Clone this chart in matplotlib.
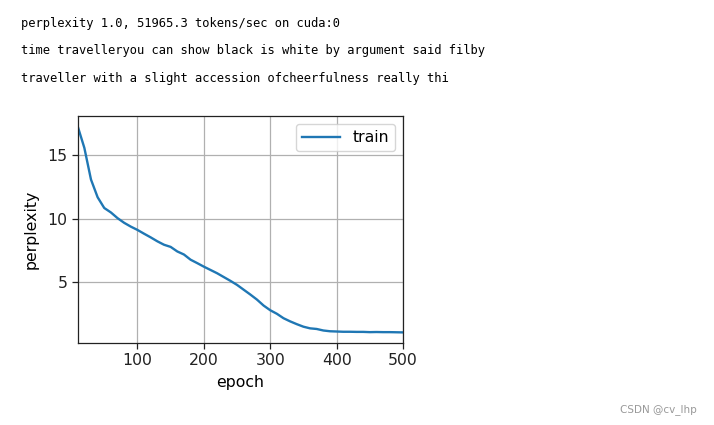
import matplotlib
matplotlib.use("Agg")
import matplotlib.pyplot as plt

header_lines = [
    "perplexity 1.0, 51965.3 tokens/sec on cuda:0",
    "time travelleryou can show black is white by argument said filby",
    "traveller with a slight accession ofcheerfulness really thi",
]

epochs = list(range(10, 501, 10))
train_ppl = [17.3, 15.6, 13.1, 11.7, 10.85, 10.5, 10.05, 9.68, 9.38, 9.12,
             8.82, 8.53, 8.22, 7.95, 7.78, 7.42, 7.18, 6.77, 6.5, 6.22,
             5.96, 5.7, 5.4, 5.1, 4.78, 4.4, 4.02, 3.62, 3.15, 2.78,
             2.5, 2.15, 1.9, 1.68, 1.48, 1.35, 1.3, 1.18, 1.12, 1.1,
             1.08, 1.08, 1.07, 1.07, 1.05, 1.06, 1.05, 1.05, 1.04, 1.03]

xticks = [100, 200, 300, 400, 500]
yticks = [5, 10, 15]

W, H = 714, 425
fig = plt.figure(figsize=(W / 100, H / 100), dpi=100)
fig.patch.set_facecolor("white")

# header text (monospace console output)
for i, line in enumerate(header_lines):
    fig.text(21 / W, 1 - (26.5 + 27.6 * i) / H, line, family="DejaVu Sans Mono",
             fontsize=8.75, color="#000000", ha="left", va="baseline")

fs = 11.3
ax = fig.add_axes([77.7 / W, 1 - 342.7 / H, (403 - 77.7) / W, (342.7 - 116) / H])
ax.plot(epochs, train_ppl, color="#1f77b4", lw=1.7, label="train")
ax.set_xlim(10, 500)
ax.set_xticks(xticks)
ax.set_yticks(yticks)
ax.grid(True, color="#b0b0b0", lw=0.9)
ax.set_xlabel("epoch", fontsize=fs, labelpad=5)
ax.set_ylabel("perplexity", fontsize=fs, labelpad=6)
ax.tick_params(labelsize=fs, length=4, width=0.9, colors="#222222", labelcolor="#222222")
for s in ax.spines.values():
    s.set_linewidth(0.9)
    s.set_color("#222222")
ax.legend(loc="upper right", fontsize=fs, handlelength=2.4)

fig.text(697 / W, 1 - 410 / H, "CSDN @cv_lhp", fontsize=7.5, color="#999999",
         ha="right", va="center", family="DejaVu Sans")

fig.savefig("out.png", dpi=100)
